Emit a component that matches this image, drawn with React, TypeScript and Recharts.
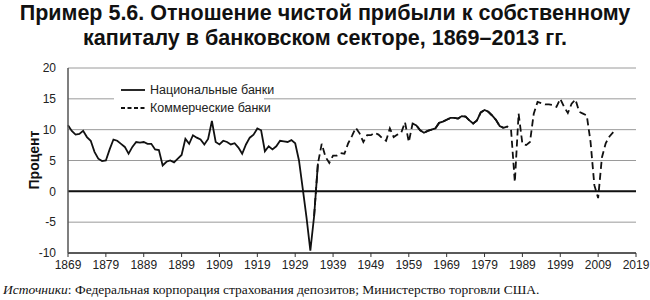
import React from 'react';
import { LineChart, Line, XAxis, YAxis, CartesianGrid, ReferenceLine } from 'recharts';

// национальные банки, 1869–1935
const nationalStart = 1869;
const nationalValues = [
  10.7, 9.8, 9.2, 9.3, 9.8, 8.8, 8.2, 6.4, 5.3, 4.9,
  5.0, 6.8, 8.4, 8.2, 7.7, 7.2, 6.1, 7.2, 8.0, 7.9,
  8.0, 7.7, 7.7, 6.8, 6.7, 4.2, 4.8, 5.0, 4.7, 5.3,
  5.9, 8.5, 7.7, 9.1, 8.7, 8.4, 7.6, 8.5, 11.4, 8.0,
  7.6, 8.2, 8.0, 7.6, 7.8, 7.1, 6.1, 7.6, 8.7, 9.2,
  10.2, 9.9, 6.5, 7.3, 6.8, 7.3, 8.2, 8.1, 8.0, 8.3,
  7.8, 5.0, 0.4, -4.3, -9.6, -4.0, 4.5,
];

// национальные банки, 1960–1984 (совпадает с коммерческими)
const nationalLateStart = 1960;
const nationalLateValues = [
  11.0, 10.7, 9.9, 9.5, 9.8, 10.0, 10.2, 11.1, 11.3, 11.6,
  11.9, 11.9, 11.8, 12.2, 12.1, 11.5, 11.0, 11.5, 12.8, 13.2,
  12.9, 12.3, 11.6, 10.6, 10.3,
];

// коммерческие банки, 1934–2013
const commercialStart = 1934;
const commercialValues = [
  -4.0, 4.5, 7.7, 5.6, 4.6, 5.8, 5.8, 6.2, 6.1, 7.8,
  9.0, 10.3, 9.4, 8.0, 9.1, 9.1, 9.5, 9.2, 8.6, 8.2,
  10.2, 8.8, 9.2, 9.5, 11.2, 8.0, 11.0, 10.7, 9.9, 9.5,
  9.8, 10.0, 10.2, 11.1, 11.3, 11.6, 11.9, 11.9, 11.8, 12.2,
  12.1, 11.5, 11.0, 11.5, 12.8, 13.2, 12.9, 12.3, 11.6, 10.6,
  10.3, 10.5, 10.0, 1.5, 12.6, 7.7, 7.5, 8.0, 12.6, 14.5,
  14.3, 14.1, 14.1, 14.0, 13.7, 15.0, 13.7, 12.7, 14.2, 14.9,
  12.9, 12.6, 12.3, 8.0, 1.0, -1.1, 5.5, 7.8, 8.9, 9.6,
];

const yearTicks = [1869, 1879, 1889, 1899, 1909, 1919, 1929, 1939, 1949, 1959, 1969, 1979, 1989, 1999, 2009, 2019];
const percentTicks = [-10, -5, 0, 5, 10, 15, 20];

const pick = (start: number, values: number[], year: number) => {
  const i = year - start;
  return i >= 0 && i < values.length ? values[i] : null;
};

const lastYear = commercialStart + commercialValues.length - 1;
const data: { year: number; national: number | null; commercial: number | null }[] = [];
for (let y = nationalStart; y <= lastYear; y++) {
  const n = pick(nationalStart, nationalValues, y) ?? pick(nationalLateStart, nationalLateValues, y);
  data.push({ year: y, national: n, commercial: pick(commercialStart, commercialValues, y) });
}

const narrow = '"Liberation Sans Narrow", "Arial Narrow", sans-serif';

const App: React.FC = () => {
  return (
    <div style={{ position: 'absolute', left: 0, top: 0, width: 650, height: 300, background: '#fff', overflow: 'hidden' }}>
      <div
        style={{
          position: 'absolute',
          top: 1,
          left: 0,
          width: 650,
          textAlign: 'center',
          fontFamily: narrow,
          fontWeight: 'bold',
          fontSize: 21.5,
          lineHeight: '25px',
          color: '#111',
        }}
      >
        <div>Пример 5.6. Отношение чистой прибыли к собственному</div>
        <div>капиталу в банковском секторе, 1869–2013 гг.</div>
      </div>

      <div style={{ position: 'absolute', left: 0, top: 0 }}>
        <LineChart width={650} height={300} data={data} margin={{ top: 68, right: 14, bottom: 17, left: 0 }}>
          <CartesianGrid vertical={false} stroke="#9a9a9a" strokeWidth={1} />
          <XAxis
            dataKey="year"
            type="number"
            domain={[1869, 2019]}
            ticks={yearTicks}
            interval={0}
            height={30}
            axisLine={{ stroke: '#333', strokeWidth: 1.5 }}
            tickLine={{ stroke: '#333' }}
            tickSize={4}
            tickMargin={3}
            tick={{ fontFamily: narrow, fontSize: 12, fill: '#222' }}
          />
          <YAxis
            type="number"
            domain={[-10, 20]}
            ticks={percentTicks}
            interval={0}
            width={68}
            axisLine={{ stroke: '#555', strokeWidth: 1.5 }}
            tickLine={false}
            tickMargin={6}
            tick={{ fontFamily: narrow, fontSize: 12, fill: '#222' }}
          />
          <ReferenceLine y={0} stroke="#111" strokeWidth={2} />
          <Line
            type="linear"
            dataKey="commercial"
            stroke="#111"
            strokeWidth={1.8}
            strokeDasharray="7 4"
            dot={false}
            connectNulls={false}
            isAnimationActive={false}
          />
          <Line
            type="linear"
            dataKey="national"
            stroke="#111"
            strokeWidth={1.8}
            dot={false}
            connectNulls={false}
            isAnimationActive={false}
          />
        </LineChart>
      </div>

      <div
        style={{
          position: 'absolute',
          left: 114,
          top: 81,
          width: 150,
          height: 36,
          background: '#fff',
          fontFamily: narrow,
          fontSize: 12.5,
          color: '#222',
          whiteSpace: 'nowrap',
        }}
      >
        <svg width={30} height={36} style={{ position: 'absolute', left: 7, top: 0 }}>
          <line x1={0} y1={9} x2={24} y2={9} stroke="#111" strokeWidth={1.8} />
          <line x1={0} y1={27} x2={24} y2={27} stroke="#111" strokeWidth={1.8} strokeDasharray="4 2.5" />
        </svg>
        <div style={{ position: 'absolute', left: 36, top: 1, lineHeight: '16px' }}>Национальные банки</div>
        <div style={{ position: 'absolute', left: 36, top: 19, lineHeight: '16px' }}>Коммерческие банки</div>
      </div>

      <div
        style={{
          position: 'absolute',
          left: 34,
          top: 160,
          transform: 'translate(-50%, -50%) rotate(-90deg)',
          fontFamily: narrow,
          fontWeight: 'bold',
          fontSize: 14,
          color: '#111',
          whiteSpace: 'nowrap',
        }}
      >
        Процент
      </div>

      <div
        style={{
          position: 'absolute',
          left: 3,
          top: 282,
          fontFamily: '"Liberation Serif", "DejaVu Serif", serif',
          fontSize: 13.5,
          color: '#111',
          whiteSpace: 'nowrap',
        }}
      >
        <i>Источники</i>: Федеральная корпорация страхования депозитов; Министерство торговли США.
      </div>
    </div>
  );
};

export default App;
